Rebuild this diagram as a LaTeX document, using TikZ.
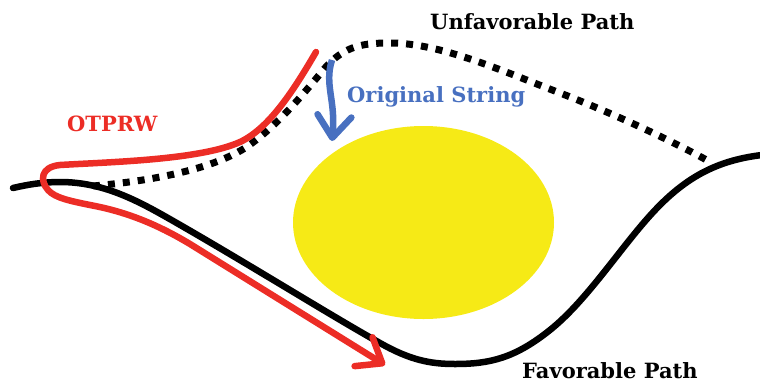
\documentclass[tikz,border=0pt]{standalone}
\usepackage{fontspec}
\setmainfont{DejaVu Serif}
\usepackage{xcolor}
\usetikzlibrary{arrows.meta,positioning}

\definecolor{pathred}{RGB}{236,45,38}
\definecolor{strblue}{RGB}{72,112,192}
\definecolor{barrier}{RGB}{246,234,22}

\begin{document}
\begin{tikzpicture}[
  x=1pt, y=-1pt,
  font=\fontsize{21}{24}\selectfont\bfseries,
  label/.style={anchor=base west, inner sep=0pt},
  favpath/.style={line width=6.5pt, line cap=round},
  unfav/.style={line width=7pt, dash pattern=on 7pt off 8pt},
  arr/.style={line width=6.5pt, -{Straight Barb[length=22pt, width=34pt, round]}}
]
\useasboundingbox (0,0) rectangle (760,389);

% barrier
\fill[barrier] (423.5,222.5) ellipse [x radius=130.5, y radius=96.5];

% favorable path
\draw[favpath] (13,188) .. controls (30,184) and (45,182) .. (60,182)
  .. controls (105,182) and (140,202) .. (175,222)
  .. controls (250,265) and (330,315) .. (380,343)
  .. controls (410,360) and (430,364) .. (455,364)
  .. controls (490,364) and (515,358) .. (550,330)
  .. controls (590,298) and (625,240) .. (660,205)
  .. controls (690,175) and (720,160) .. (762,155);

% unfavorable path
\draw[unfav] (93,186) .. controls (150,181) and (210,170) .. (245,148)
  .. controls (275,128) and (300,98) .. (325,68)
  .. controls (345,45) and (365,43) .. (390,43)
  .. controls (440,43) and (500,70) .. (560,93)
  .. controls (620,116) and (680,145) .. (712,163);

% OTPRW path
\coordinate (otpstart) at (316,52);
\coordinate (otpend) at (385,365);
\draw[pathred, arr, line cap=round] (otpstart)
  .. controls (295,88) and (270,128) .. (240,142)
  .. controls (200,160) and (110,162) .. (60,165)
  .. controls (40,167) and (40,181) .. (48,190)
  .. controls (55,198) and (70,201) .. (95,206)
  .. controls (130,213) and (160,226) .. (190,244)
  -- (otpend);

% original string
\coordinate (strtop) at (332,60);
\coordinate (strtip) at (332,141);
\draw[strblue, arr] (strtop) .. controls (324,85) and (336,100) .. (strtip);

% labels
\node[label] (unfavlbl) at (430,29) {Unfavorable Path};
\node[label, text=strblue] (strlbl) at (347,102) {Original String};
\node[label, text=pathred] (otprw) at (67,131) {OTPRW};
\node[label] (favlbl) at (522,378) {Favorable Path};
\end{tikzpicture}
\end{document}
